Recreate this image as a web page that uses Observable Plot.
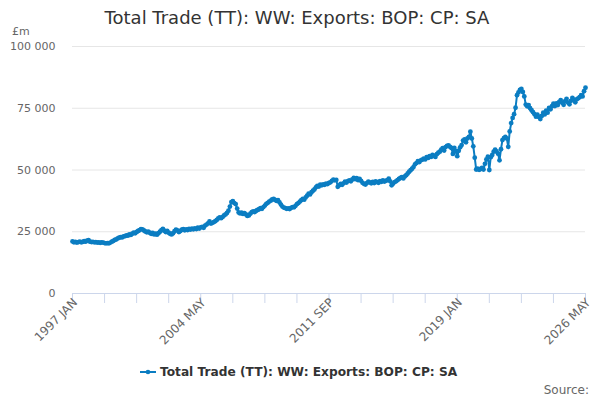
<!DOCTYPE html>
<html><head><meta charset="utf-8">
<script src="https://cdn.jsdelivr.net/npm/d3@7"></script>
<script src="https://cdn.jsdelivr.net/npm/@observablehq/plot@0.6"></script>
<style>
body{margin:0;background:#fff;font-family:"DejaVu Sans",sans-serif;}
#wrap{position:relative;width:600px;height:400px;overflow:hidden;}
#chart{position:absolute;left:0;top:0;}
#title{position:absolute;top:7px;left:0;width:594px;text-align:center;font-size:18px;color:#333;line-height:22px;}
#unit{position:absolute;left:12px;top:25px;font-size:11px;color:#666;}
#legend{position:absolute;left:140px;top:365px;font-size:12.2px;font-weight:bold;color:#333;white-space:nowrap;display:flex;align-items:center;}
#legend svg{margin-right:4px;}
#source{position:absolute;right:11px;top:383px;font-size:12px;color:#666;}
</style>
</head><body>
<div id="wrap">
  <div id="chart"></div>
  <div id="title">Total Trade (TT): WW: Exports: BOP: CP: SA</div>
  <div id="unit">£m</div>
  <div id="legend"><svg width="16" height="10"><line x1="0" y1="5" x2="16" y2="5" stroke="#0b7dc2" stroke-width="2"/><circle cx="8" cy="5" r="2.3" fill="#0b7dc2"/></svg>Total Trade (TT): WW: Exports: BOP: CP: SA</div>
  <div id="source">Source:</div>
</div>
<script>
// Monthly values, £m, starting 1997 JAN (one row per year)
const startYear = 1997;
const monthNames = ["JAN","FEB","MAR","APR","MAY","JUN","JUL","AUG","SEP","OCT","NOV","DEC"];
const exportsGBPm = [
  21100,20700,20900,20600,20800,21000,20700,20900,21200,21000,21400,21600, // 1997
  21000,20800,20900,20700,20800,20600,20700,20500,20700,20600,20400,20300, // 1998
  20400,20300,20600,21000,21300,21700,21900,22300,22600,22800,22700,23100, // 1999
  23200,23500,23400,23900,23700,24200,24600,24400,24900,25300,25600,26100, // 2000
  26000,25500,25100,24800,25000,24600,24200,24500,23900,24200,23800,24400, // 2001
  25000,25600,26200,25400,24900,25300,24600,24200,23900,24400,25200,25900, // 2002
  25500,24900,25300,25800,26100,25600,26000,25700,26200,25900,26300,26000, // 2003
  26400,26100,26700,26300,26800,27000,26600,27500,27900,28400,29200,28300, // 2004
  28600,28900,29300,29800,30400,30800,30500,31000,31600,32000,32600,33500, // 2005
  35200,37000,37400,36600,36200,34400,32800,32400,32700,32200,32500,32000, // 2006
  31400,31600,32300,32900,33200,33000,33500,33800,34100,34600,34300,35000, // 2007
  35600,36300,36700,37200,37600,38100,38300,37900,37500,37800,36900,36000, // 2008
  35200,34800,34600,34300,34500,34200,34700,35000,34900,35500,36200,36600, // 2009
  37200,37800,38300,38000,38900,39600,40400,40100,41000,41600,42100,43000, // 2010
  43600,43300,44100,43800,44200,44000,44500,44300,44800,45000,45600,46100, // 2011
  45800,46000,43200,43800,44400,44000,44600,45300,44900,45500,45800,45400, // 2012
  46200,46800,46300,46700,45900,46400,45600,44800,44400,44100,44700,45300, // 2013
  45000,44600,45200,44700,45400,45100,44800,45500,45200,45800,45300,45600, // 2014
  45900,46500,45400,43800,44500,45100,45400,45900,46400,46800,47100,46600, // 2015
  47400,47900,48600,49300,49900,50500,51200,52300,52800,53600,53200,53900, // 2016
  54200,54600,54300,55200,54900,55600,55300,56100,55800,55300,56400,57000, // 2017
  57400,58200,58800,57900,59300,59800,60000,59400,58900,56500,58900,57600, // 2018
  55600,57800,59200,60100,61900,62400,61200,62800,63400,65500,62800,59600, // 2019
  55000,50200,50500,50100,50400,50800,50200,52500,54300,55400,50000,55200, // 2020
  56100,57400,58200,57500,56600,53900,58400,62100,62900,63400,62800,59400, // 2021
  65600,69000,71100,72600,75200,80300,81400,82400,82800,81600,79800,76500, // 2022
  75800,76300,75000,74200,73400,72600,71600,72400,71500,70600,71900,73200, // 2023
  72500,74000,73200,75100,74600,75800,76900,75900,77000,76300,77600,78300, // 2024
  77200,76400,77900,78800,77300,76600,78000,79200,78500,77400,78600,79000, // 2025
  79500,80300,79800,81900,83300                                              // 2026
];
const xTickStep = 22;           // months between axis ticks
const xLabelEvery = 4;          // label every 4th tick
const xTickLabels = ["1997 JAN","2004 MAY","2011 SEP","2019 JAN","2026 MAY"];
const yTicks = [0, 25000, 50000, 75000, 100000];

const data = exportsGBPm.map((v, i) => ({
  i, v,
  label: `${startYear + Math.floor(i / 12)} ${monthNames[i % 12]}`
}));
const n = exportsGBPm.length;
const tickVals = d3.range(0, n, xTickStep);
const labelFor = t => {
  const k = t / xTickStep;
  return k % xLabelEvery === 0 ? xTickLabels[k / xLabelEvery] : "";
};
const fmtY = d => d3.format(",")(d).replace(/,/g, " ");
const blue = "#0b7dc2";

const chart = Plot.plot({
  width: 600,
  height: 400,
  marginTop: 46,
  marginBottom: 107,
  marginLeft: 72,
  marginRight: 15,
  style: {fontFamily: "DejaVu Sans, sans-serif", fontSize: "11px", background: "transparent"},
  x: {domain: [0, n - 1], axis: null},
  y: {domain: [0, 100000], axis: null},
  marks: [
    Plot.gridY(yTicks.slice(1), {stroke: "#e6e6e6", strokeOpacity: 1}),
    Plot.axisY(yTicks, {tickSize: 0, tickPadding: 17, tickFormat: fmtY, fill: "#666", fontSize: 11, label: null}),
    Plot.ruleY([0], {stroke: "#ccd6eb"}),
    Plot.axisX(tickVals, {tickSize: 10, tickFormat: () => "", stroke: "#ccd6eb", strokeOpacity: 1, label: null}),
    Plot.axisX(tickVals, {tickSize: 0, tickPadding: 7, tickRotate: -45, tickFormat: labelFor, fill: "#666", fontSize: 12, dx: 3, label: null}),
    Plot.line(data, {x: "i", y: "v", stroke: blue, strokeWidth: 2}),
    Plot.dot(data, {x: "i", y: "v", r: 2.4, fill: blue, stroke: "none"})
  ]
});
document.getElementById("chart").appendChild(chart);
</script>
</body></html>
